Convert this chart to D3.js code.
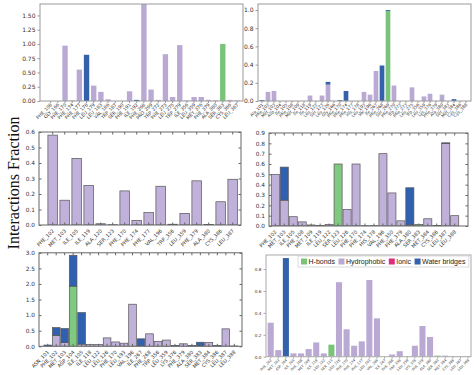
<!DOCTYPE html>
<html><head><meta charset="utf-8">
<script src="https://cdn.jsdelivr.net/npm/d3@7"></script>
<style>body{margin:0;background:#fff}svg{display:block}</style>
</head><body><svg id="c" width="474" height="375"></svg>
<script>
// ---------- DATA ----------
const p1Categories = ["PHE_108","GLY_166","PHE_170","PHE_174","PHE_177","PHE_178","LEU_179","LEU_183","VAL_186","TRP_187","SER_190","PHE_191","ILE_192","PHE_268","PRO_269","TRP_272","PHE_273","LEU_275","TRP_279","ILE_356","LEU_359","MET_376","PHE_379","ALA_380","SER_383","CYS_386","LEU_387"];
const p1HBonds      = [0,0,0,0,0,0,0,0,0,0,0,0,0,0,0,0,0,0,0,0,0,0,0,0,1.00,0,0];
const p1Hydrophobic = [0,0,0.97,0.01,0.55,0,0.27,0.16,0.03,0,0,0.17,0,1.72,0.20,0.02,0.82,0.07,0.98,0.01,0.07,0.07,0.02,0.01,0,0.02,0.01];
const p1Ionic       = [0,0,0,0,0,0,0,0,0,0,0,0,0,0,0,0,0,0,0,0,0,0,0,0,0,0,0];
const p1Water       = [0,0,0,0,0,0.81,0,0,0,0,0,0,0.02,0,0,0,0,0,0,0,0,0,0,0,0,0,0];

const p2Categories = ["Ala_101","Phe_102","Met_103","Asp_104","Ile_105","Phe_108","Met_109","Ile_118","Ile_119","Leu_122","Ser_123","Leu_126","Gly_166","Phe_170","Phe_174","Phe_177","His_178","Leu_193","Val_196","Ile_267","Phe_268","Ser_269","Phe_270","Trp_272","Phe_273","Leu_275","Trp_356","Leu_359","Lys_376","Phe_379","Ala_380","Ser_383","Met_384","Cys_386","Cys_388"];
const p2HBonds      = [0,0,0,0,0,0,0,0,0,0,0,0,0,0,0,0,0,0,0,0,0,0.99,0,0,0,0,0,0,0,0,0,0,0,0,0];
const p2Hydrophobic = [0,0.10,0.11,0,0,0,0,0,0.06,0,0.06,0.18,0,0,0,0,0,0.10,0.07,0.33,0,0,0.17,0,0,0.15,0,0.05,0.08,0,0.07,0,0,0,0];
const p2Ionic       = [0,0,0,0,0,0,0,0,0,0,0,0,0,0,0,0,0,0,0,0,0,0,0,0,0,0,0,0,0,0,0,0,0,0,0];
const p2Water       = [0.01,0,0,0,0,0,0,0,0,0,0,0.03,0,0.01,0.11,0,0,0,0,0,0.39,0.01,0,0,0,0,0,0,0,0,0,0,0.02,0,0];

const p3Categories = ["PHE_102","MET_103","ILE_105","ILE_119","ALA_120","SER_123","PHE_170","PHE_174","PHE_177","VAL_196","TRP_356","LEU_359","PHE_379","ALA_380","CYS_386","LEU_387"];
const p3HBonds      = [0,0,0,0,0,0,0,0,0,0,0,0,0,0,0,0];
const p3Hydrophobic = [0.58,0.16,0.43,0.255,0.008,0.002,0.22,0.03,0.08,0.25,0.005,0.075,0.285,0.004,0.15,0.295];
const p3Ionic       = [0,0,0,0,0,0,0,0,0,0,0,0,0,0,0,0];
const p3Water       = [0,0,0,0,0,0,0,0,0,0,0,0,0,0,0,0];

const p4Categories = ["PHE_102","MET_103","ILE_105","PHE_108","MET_109","ILE_119","LEU_122","SER_123","LEU_126","PHE_170","PHE_174","HIS_178","VAL_196","PHE_350","PHE_379","ALA_380","SER_383","MET_384","CYS_386","LEU_387","LEU_388"];
const p4HBonds      = [0,0,0,0,0,0,0,0.60,0,0,0,0,0,0,0,0,0.015,0,0,0,0];
const p4Hydrophobic = [0.50,0.25,0.09,0.04,0.01,0,0.015,0,0.16,0.60,0.003,0,0.70,0.32,0.05,0.01,0,0.07,0,0.80,0.10];
const p4Ionic       = [0,0,0,0,0,0,0,0,0,0,0,0,0,0,0,0,0,0,0,0,0];
const p4Water       = [0,0.32,0,0,0,0.005,0,0,0,0,0,0.003,0,0,0,0.36,0,0,0.005,0.005,0];

const p5Categories = ["ASN_101","PHE_102","MET_103","ASP_104","ILE_105","ILE_118","LEU_122","LEU_126","PHE_170","LEU_193","VAL_196","ILE_267","PHE_268","TRP_356","LEU_359","LYS_376","PHE_379","ALA_380","SER_383","MET_384","CYS_386","LEU_387","LEU_388"];
const p5HBonds      = [0,0,0,1.93,0,0,0,0,0,0,0,0,0,0,0,0,0,0,0,0,0,0,0];
const p5Hydrophobic = [0,0.35,0.12,0,0.07,0.06,0.06,0.27,0.14,0.10,1.35,0,0.40,0.16,0.20,0,0.08,0,0,0.12,0,0.56,0.01];
const p5Ionic       = [0,0,0,0,0,0,0,0,0,0,0,0,0,0,0,0,0,0,0,0,0,0,0];
const p5Water       = [0.04,0.25,0.45,0.99,1.01,0,0,0,0,0,0,0.24,0,0,0,0.03,0,0.03,0.13,0,0.03,0,0];

const p6Categories = ["PHE_102","MET_103","ASP_104","ILE_105","PHE_108","MET_109","ILE_118","LEU_122","SER_123","LEU_126","PHE_170","PHE_174","PHE_177","LEU_193","VAL_196","ILE_267","PHE_268","TRP_356","LEU_359","LYS_376","PHE_379","ALA_380","SER_383","MET_384","CYS_386","LEU_387","LEU_388"];
const p6HBonds      = [0,0,0,0,0,0,0,0,0.11,0,0,0,0,0,0,0,0,0,0,0,0,0,0.01,0,0,0,0];
const p6Hydrophobic = [0.31,0.06,0,0.03,0.03,0.07,0.13,0.03,0,0.68,0.25,0.10,0.14,0.70,0.35,0,0.02,0.05,0,0.10,0.28,0.18,0,0.01,0.005,0.005,0.005];
const p6Ionic       = [0,0,0,0,0,0,0,0,0,0,0,0,0,0,0,0,0,0,0,0,0,0,0,0,0,0,0];
const p6Water       = [0,0,0.90,0,0,0,0,0,0,0,0,0,0,0,0,0,0,0,0,0,0,0,0,0,0,0,0];

const legendLabels = ["H-bonds","Hydrophobic","Ionic","Water bridges"];
const yTitle = "Interactions Fraction";

// ---------- DRAWING ----------
const svg = d3.select("#c");
const keys = ["hb","hyd","ion","wb"];
const colorsA = {hb:"#7ac47a", hyd:"#b9a9d3", ion:"#dd2c7d", wb:"#3462aa"};
const colorsB = {hb:"#80c980", hyd:"#c0b1da", ion:"#dd2c7d", wb:"#2f61b0"};

let clipId = 0;
function panel(o){
  const rows = o.cats.map((c,i)=>({cat:c, hb:o.hb[i], hyd:o.hyd[i], ion:o.ion[i], wb:o.wb[i]}));
  const n = o.cats.length;
  const step = (o.c1 - o.c0)/(n-1);
  const x = d3.scaleBand().domain(o.cats).range([o.c0 - step/2, o.c1 + step/2])
     .paddingInner(o.pad).paddingOuter(o.pad/2);
  const y = d3.scaleLinear().domain([0, o.yMax]).range([o.y1, o.y0]);
  const g = svg.append("g");
  const id = "clip"+(clipId++);
  g.append("clipPath").attr("id",id).append("rect")
    .attr("x",o.x0).attr("y",o.y0).attr("width",o.x1-o.x0).attr("height",o.y1-o.y0);
  const stack = d3.stack().keys(keys)(rows);
  const colors = o.colors;
  g.append("g").attr("clip-path",`url(#${id})`)
   .selectAll("g").data(stack).join("g").attr("fill",d=>colors[d.key])
   .selectAll("rect").data(d=>d.filter(s=>s[1]-s[0]>0)).join("rect")
   .attr("x",d=>x(d.data.cat)).attr("width",x.bandwidth())
   .attr("y",d=>y(d[1])).attr("height",d=>Math.max(0.6, y(d[0])-y(d[1])))
   .attr("stroke",o.stroke||"none").attr("stroke-width",o.stroke?0.7:0);
  g.append("rect").attr("x",o.x0).attr("y",o.y0).attr("width",o.x1-o.x0).attr("height",o.y1-o.y0)
   .attr("fill","none").attr("stroke",o.frame).attr("stroke-width",o.frameW||1);
  const ya = g.append("g").attr("transform",`translate(${o.x0},0)`)
    .call(d3.axisLeft(y).tickValues(o.ticks).tickFormat(d3.format(o.fmt)).tickSize(o.inner? -2.5:2.5).tickPadding(o.inner?4:2));
  ya.select(".domain").remove();
  ya.selectAll("line").attr("stroke",o.frame);
  ya.selectAll("text").attr("font-family","DejaVu Sans, sans-serif").attr("font-size",o.fy).attr("fill","#333");
  const xa = g.append("g").attr("transform",`translate(0,${o.y1})`)
    .call(d3.axisBottom(x).tickSize(o.inner?-2.5:2).tickPadding(2));
  xa.select(".domain").remove();
  xa.selectAll("line").attr("stroke",o.frame);
  xa.selectAll("text").attr("font-family","DejaVu Sans, sans-serif").attr("font-size",o.fx).attr("fill","#333")
    .attr("text-anchor","end").attr("dy","0.3em")
    .attr("transform",`translate(0,${o.inner?3:1}) rotate(-45)`).attr("x",-1).attr("y",2);
  if(o.inner){
    g.append("g").attr("transform",`translate(0,${o.y0})`)
     .call(d3.axisTop(x).tickSize(-2.5).tickFormat(""))
     .call(a=>{a.select(".domain").remove(); a.selectAll("line").attr("stroke",o.frame);});
    g.append("g").attr("transform",`translate(${o.x1},0)`)
     .call(d3.axisRight(y).tickValues(o.ticks).tickSize(-2.5).tickFormat(""))
     .call(a=>{a.select(".domain").remove(); a.selectAll("line").attr("stroke",o.frame);});
  }
  return {g,x,y};
}

panel({cats:p1Categories,hb:p1HBonds,hyd:p1Hydrophobic,ion:p1Ionic,wb:p1Water,
  x0:40,x1:243,y0:4,y1:101,c0:50.7,c1:237.1,pad:0.25,yMax:1.70,
  ticks:[0,0.25,0.5,0.75,1,1.25,1.5],fmt:".2f",fy:6,fx:4.6,frame:"#999",colors:colorsA});
panel({cats:p2Categories,hb:p2HBonds,hyd:p2Hydrophobic,ion:p2Ionic,wb:p2Water,
  x0:258,x1:471,y0:4,y1:101,c0:262,c1:466,pad:0.22,yMax:1.066,
  ticks:[0,0.2,0.4,0.6,0.8,1.0],fmt:".1f",fy:6,fx:4.2,frame:"#999",colors:colorsA});
panel({cats:p3Categories,hb:p3HBonds,hyd:p3Hydrophobic,ion:p3Ionic,wb:p3Water,
  x0:39,x1:241,y0:132,y1:225,c0:52.7,c1:232.7,pad:0.2,yMax:0.6,
  ticks:[0,0.1,0.2,0.3,0.4,0.5,0.6],fmt:".1f",fy:5.8,fx:5,frame:"#666",stroke:"#555",inner:true,colors:colorsB});
panel({cats:p4Categories,hb:p4HBonds,hyd:p4Hydrophobic,ion:p4Ionic,wb:p4Water,
  x0:269,x1:468,y0:133,y1:226,c0:275.3,c1:454.7,pad:0.1,yMax:0.9,
  ticks:[0,0.1,0.2,0.3,0.4,0.5,0.6,0.7,0.8,0.9],fmt:".1f",fy:5.8,fx:5,frame:"#666",stroke:"#555",inner:true,colors:colorsB});
panel({cats:p5Categories,hb:p5HBonds,hyd:p5Hydrophobic,ion:p5Ionic,wb:p5Water,
  x0:39,x1:242,y0:252.8,y1:346.3,c0:47.7,c1:234.3,pad:0.1,yMax:3.0,
  ticks:[0,0.5,1,1.5,2,2.5,3],fmt:".1f",fy:5.8,fx:5,frame:"#666",stroke:"#555",inner:true,colors:colorsB});
panel({cats:p6Categories,hb:p6HBonds,hyd:p6Hydrophobic,ion:p6Ionic,wb:p6Water,
  x0:266,x1:471,y0:255,y1:356.7,c0:270.7,c1:468,pad:0.2,yMax:0.928,
  ticks:[0,0.2,0.4,0.6,0.8],fmt:".1f",fy:4.2,fx:3.4,frame:"#aaa",colors:colorsA});

// legend in panel 6 (fit to box 298..470)
const leg = svg.append("g").attr("transform","translate(298,256)");
const legBox = leg.append("rect").attr("x",0).attr("y",0).attr("height",11)
  .attr("fill","#fff").attr("stroke","#ccc").attr("stroke-width",0.7);
let lx = 3;
legendLabels.forEach((lab,i)=>{
  leg.append("rect").attr("x",lx).attr("y",2.5).attr("width",6).attr("height",6).attr("fill",colorsA[keys[i]]);
  const t = leg.append("text").attr("x",lx+7.5).attr("y",8.2).text(lab)
    .attr("font-family","Liberation Sans, Arial, sans-serif").attr("font-size",7).attr("fill","#222");
  lx += 7.5 + t.node().getComputedTextLength() + 3.5;
});
legBox.attr("width",Math.min(lx, 172));

// y title
svg.append("text").attr("transform","translate(19,183) rotate(-90)")
  .attr("text-anchor","middle").attr("font-family","Liberation Serif, Times New Roman, serif")
  .attr("font-size",16).attr("fill","#111").text(yTitle);
</script>
</body></html>
